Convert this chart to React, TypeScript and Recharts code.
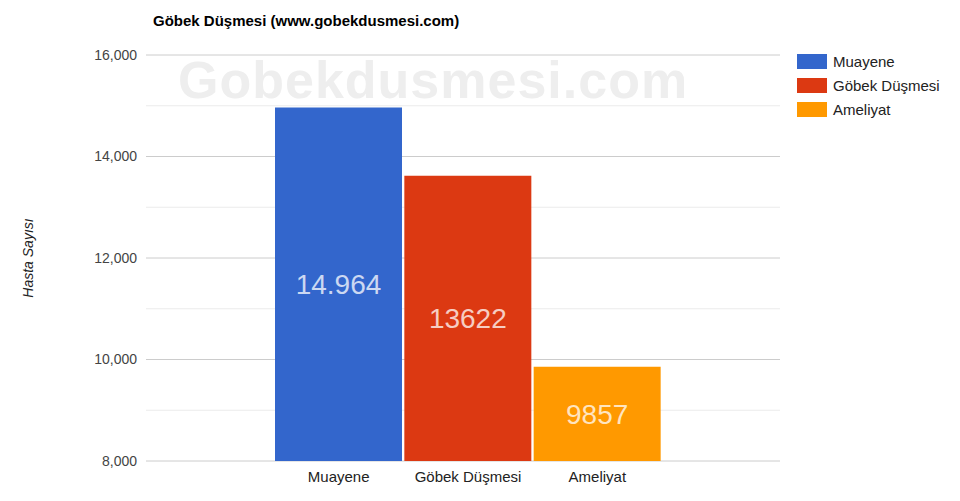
import React from "react";
import { BarChart, Bar, XAxis, YAxis, CartesianGrid, LabelList } from "recharts";

const categories = ["Muayene", "Göbek Düşmesi", "Ameliyat"];
const values = [14964, 13622, 9857];
const valueLabels = ["14.964", "13622", "9857"];
const colors = ["#3366cc", "#dc3912", "#ff9900"];
const yTicks = [8000, 9000, 10000, 11000, 12000, 13000, 14000, 15000, 16000];
const yLabeled = [8000, 10000, 12000, 14000, 16000];

// one row per category, one series per category (stacked so each sits full width)
const data = categories.map((name, i) => {
    const row: Record<string, any> = { name };
    categories.forEach((c, j) => {
        row[c] = i === j ? values[i] : null;
        row[c + "_label"] = i === j ? valueLabels[i] : "";
    });
    return row;
});

const FONT = "'Liberation Sans', Arial, sans-serif";

function LegendBox() {
    return (
        <div style={{ position: "absolute", left: 797, top: 49, fontFamily: FONT, fontSize: 15, color: "#222" }}>
            {categories.map((c, i) => (
                <div key={c} style={{ display: "flex", alignItems: "center", height: 24 }}>
                    <span style={{ width: 30, height: 15, background: colors[i], display: "inline-block", marginRight: 6 }} />
                    {c}
                </div>
            ))}
        </div>
    );
}

function GridLine(props: any) {
    const major = props.index % 2 === 0;
    return (
        <line
            key={props.key}
            x1={props.x1}
            y1={props.y1}
            x2={props.x2}
            y2={props.y2}
            stroke={major ? "#cccccc" : "#ebebeb"}
            strokeWidth={1}
        />
    );
}

export default function App() {
    return (
        <div style={{ position: "absolute", left: 0, top: 0, width: 960, height: 501, background: "#fff", fontFamily: FONT }}>
            <div style={{ position: "absolute", left: 153, top: 12, fontSize: 15, fontWeight: "bold", color: "#000" }}>
                Göbek Düşmesi (www.gobekdusmesi.com)
            </div>
            <div
                style={{
                    position: "absolute",
                    left: 178,
                    top: 50,
                    fontSize: 52,
                    fontWeight: "bold",
                    color: "#eeeeee",
                    letterSpacing: 1,
                    pointerEvents: "none",
                }}
            >
                Gobekdusmesi.com
            </div>
            <LegendBox />
            <div style={{ position: "absolute", left: 0, top: 0 }}>
                <BarChart
                    width={960}
                    height={501}
                    data={data}
                    margin={{ top: 55, right: 180, bottom: 10, left: 0 }}
                    barCategoryGap={1}
                >
                    <CartesianGrid vertical={false} horizontal={GridLine as any} />
                    <XAxis
                        dataKey="name"
                        height={30}
                        axisLine={false}
                        tickLine={false}
                        tickSize={0}
                        tickMargin={10}
                        padding={{ left: 128, right: 118 }}
                        tick={{ fill: "#222", fontSize: 15, fontFamily: FONT }}
                    />
                    <YAxis
                        width={146}
                        domain={[8000, 16000]}
                        ticks={yTicks}
                        allowDataOverflow
                        axisLine={false}
                        tickLine={false}
                        tickSize={0}
                        tickMargin={9}
                        tickFormatter={(v: number) => (yLabeled.includes(v) ? v.toLocaleString("en-US") : "")}
                        tick={{ fill: "#444", fontSize: 14, fontFamily: FONT }}
                        label={{
                            value: "Hasta Sayısı",
                            angle: -90,
                            position: "insideLeft",
                            offset: 28,
                            style: { fontStyle: "italic", fill: "#222", fontSize: 14, fontFamily: FONT, textAnchor: "middle" },
                        }}
                    />
                    {categories.map((c, i) => (
                        <Bar key={c} dataKey={c} stackId="a" fill={colors[i]} isAnimationActive={false}>
                            <LabelList
                                dataKey={c + "_label"}
                                position="center"
                                fill="#ffffff"
                                fillOpacity={0.75}
                                fontSize={28}
                                fontFamily={FONT}
                            />
                        </Bar>
                    ))}
                </BarChart>
            </div>
        </div>
    );
}
